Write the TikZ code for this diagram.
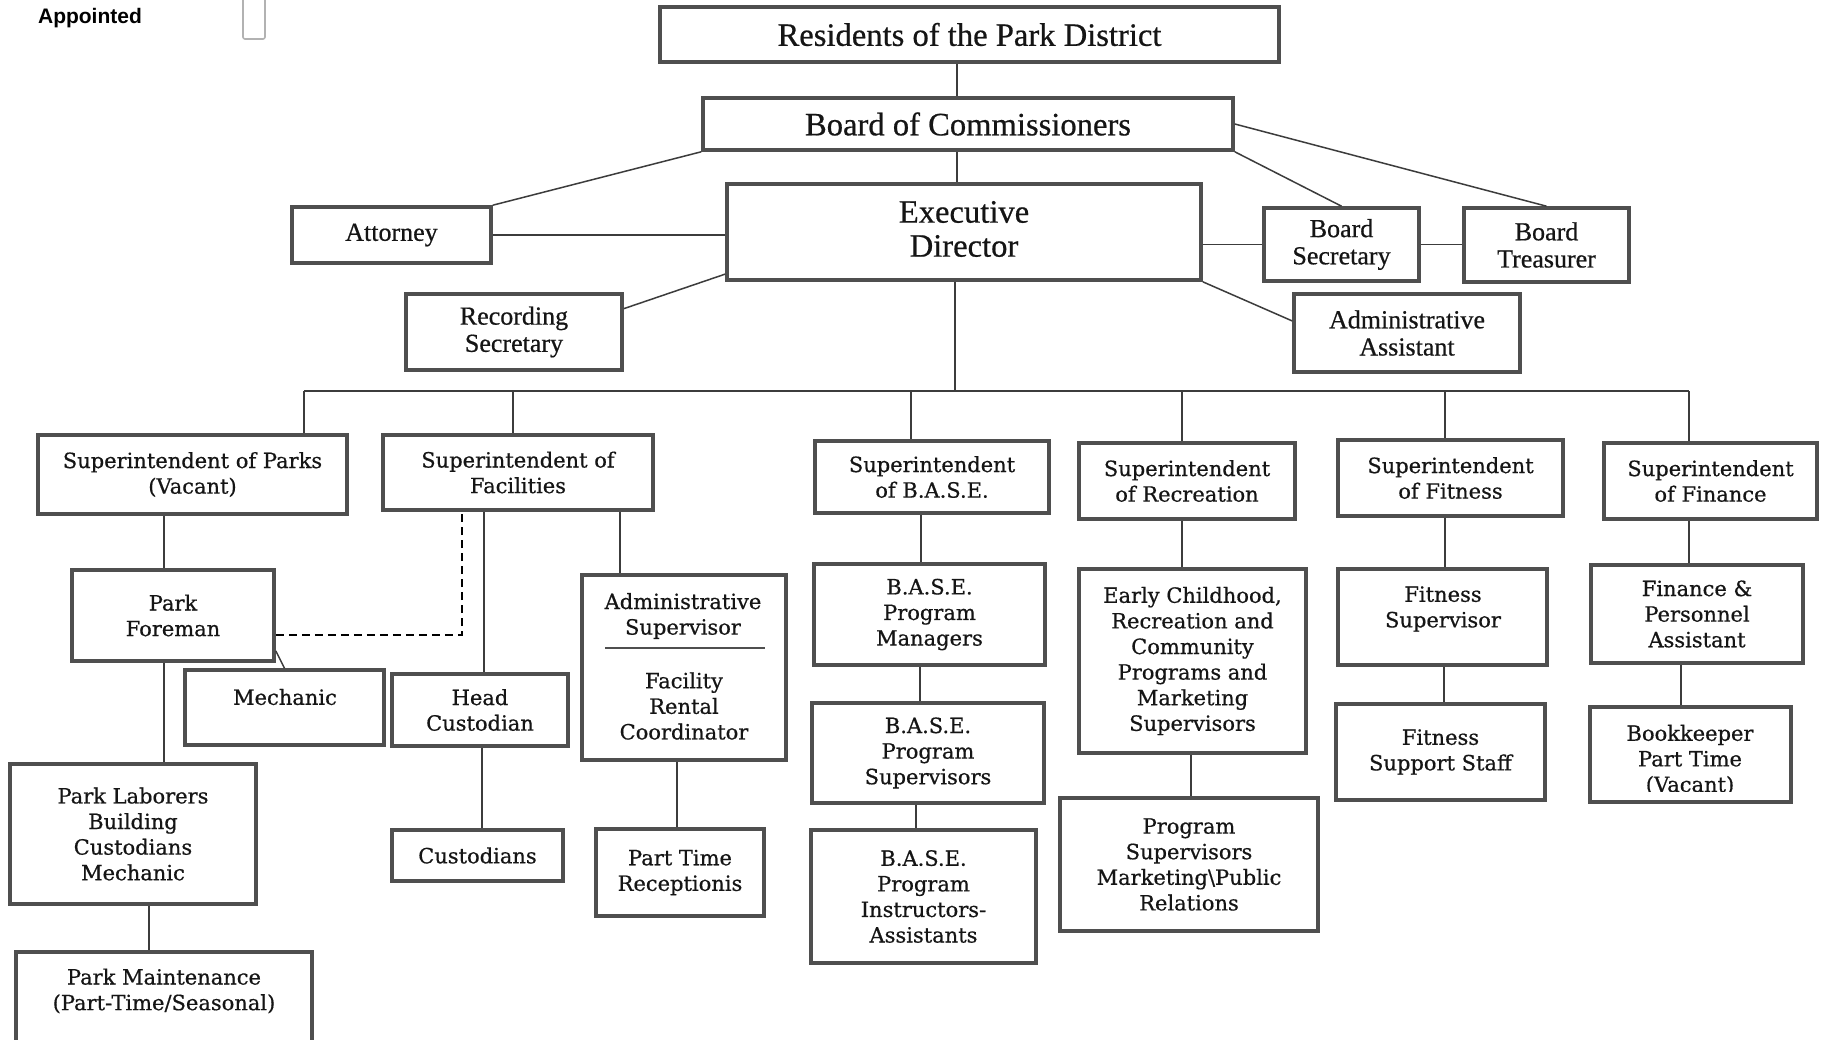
\documentclass[tikz,border=0pt]{standalone}
\usepackage{fontspec}
\setmainfont{DejaVu Serif}
\newfontfamily\lowserif{DejaVu Serif}[FakeBold=0.6]
\newfontfamily\topserif{Liberation Serif}[FakeBold=0.6]
\newfontfamily\labsans{Liberation Sans}
\definecolor{boxgray}{HTML}{4F4F4F}
\definecolor{linegray}{HTML}{3C3C3C}
\definecolor{txt}{HTML}{151515}
\newcommand\orgLow{\fontsize{10.5}{12.8}\selectfont\lowserif}
\newcommand\orgBig{\fontsize{16.3}{17}\selectfont\topserif}
\newcommand\orgMid{\fontsize{13}{13.6}\selectfont\topserif}
% #1 name, #2 x1, #3 y1, #4 x2, #5 y2, #6 style, #7 text
\newcommand\orgbox[7]{\node[#6, minimum width={(#4-#2)*0.5pt}, minimum height={(#5-#3)*0.5pt}] (#1) at ({(#2+#4)/2},{(#3+#5)/2}) {#7};}
\begin{document}
\begin{tikzpicture}[x=0.5pt,y=-0.5pt,
  box/.style={draw=boxgray, line width=1.8pt, inner sep=0pt, align=center, text=txt, font=\orgLow},
  topbox/.style={box, font=\orgBig},
  midbox/.style={box, font=\orgMid},
  conn/.style={draw=linegray, line width=0.75pt},
  dotted link/.style={draw=black, line width=1.3pt, dash pattern=on 4pt off 2.5pt},
  divider/.style={draw=boxgray, line width=1pt},
  txtnode/.style={align=center, text=txt, font=\orgLow, inner sep=0pt}]
\fill[white] (0,0) rectangle (1825,1039);
\useasboundingbox (0,0) rectangle (1825,1039);

% legend
\node[font=\labsans\bfseries\fontsize{10.5}{12}\selectfont, inner sep=0pt] (appt) at (90,18) {Appointed};
\orgbox{appbox}{243}{-12}{265}{39}{draw=gray!60, line width=0.8pt, inner sep=0pt, rounded corners=1pt}{}

% top
\orgbox{res}{660}{7}{1279}{62}{topbox}{Residents of the Park District}
\orgbox{bd}{703}{98}{1233}{150}{topbox}{Board of Commissioners}
\orgbox{ed}{727}{184}{1201}{280}{topbox}{}
\node[txtnode, font=\orgBig] (edt) at (964,229) {Executive\\Director};
\orgbox{att}{292}{207}{491}{263}{midbox}{Attorney}
\orgbox{bsec}{1264}{208}{1419}{281}{midbox}{Board\\Secretary}
\orgbox{btr}{1464}{208}{1629}{282}{midbox}{Board\\Treasurer}
\orgbox{rs}{406}{294}{622}{370}{midbox}{Recording\\Secretary}
\orgbox{aa}{1294}{294}{1520}{372}{midbox}{Administrative\\Assistant}

% level 2
\orgbox{sp}{38}{435}{347}{514}{box}{Superintendent of Parks\\(Vacant)}
\orgbox{sf}{383}{435}{653}{510}{box}{Superintendent of\\Facilities}
\orgbox{sb}{815}{441}{1049}{513}{box}{Superintendent\\of B.A.S.E.}
\orgbox{sr}{1079}{443}{1295}{519}{box}{Superintendent\\of Recreation}
\orgbox{sfit}{1338}{440}{1563}{516}{box}{Superintendent\\of Fitness}
\orgbox{sfin}{1604}{443}{1817}{519}{box}{Superintendent\\of Finance}

% level 3 and below
\orgbox{pf}{72}{570}{274}{661}{box}{Park\\Foreman}
\orgbox{mech}{185}{670}{384}{745}{box}{}
\node[txtnode] (mecht) at (285,697) {Mechanic};
\orgbox{hc}{392}{674}{568}{746}{box}{Head\\Custodian}
\orgbox{cu}{392}{830}{563}{881}{box}{Custodians}
\orgbox{as}{582}{575}{786}{760}{box}{}
\node[txtnode] (ast1) at (683,616) {Administrative\\Supervisor};
\node[txtnode] (ast2) at (684,706) {Facility\\Rental\\Coordinator};
\draw[divider] (605,648) -- (765,648);
\orgbox{pt}{596}{829}{764}{916}{box}{Part Time\\Receptionis}
\orgbox{pl}{10}{764}{256}{904}{box}{Park Laborers\\Building\\Custodians\\Mechanic}
\orgbox{pm}{16}{952}{312}{1060}{box}{}
\node[txtnode] (pmt) at (164,991) {Park Maintenance\\(Part-Time/Seasonal)};

\orgbox{bm}{814}{564}{1045}{665}{box}{B.A.S.E.\\Program\\Managers}
\orgbox{bs}{812}{703}{1044}{803}{box}{B.A.S.E.\\Program\\Supervisors}
\orgbox{bi}{811}{830}{1036}{963}{box}{B.A.S.E.\\Program\\Instructors-\\Assistants}
\orgbox{ec}{1079}{569}{1306}{753}{box}{Early Childhood,\\Recreation and\\Community\\Programs and\\Marketing\\Supervisors}
\orgbox{ps}{1060}{798}{1318}{931}{box}{Program\\Supervisors\\Marketing\textbackslash Public\\Relations}
\orgbox{fs}{1338}{569}{1547}{665}{box}{}
\node[txtnode] (fst1) at (1443,609) {Fitness\\Supervisor};
\orgbox{fst}{1336}{704}{1545}{800}{box}{Fitness\\Support Staff}
\orgbox{fp}{1591}{565}{1803}{663}{box}{Finance \&\\Personnel\\Assistant}
\orgbox{bk}{1590}{707}{1791}{802}{box}{}
\begin{scope}
  \clip (1590,707) rectangle (1791,791);
  \node[txtnode] (bkt) at (1690,760) {Bookkeeper\\Part Time\\(Vacant)};
\end{scope}

% helper coordinates
\coordinate (x957) at (957,0);
\coordinate (b0) at (955,391);
\coordinate (b1) at (304,391);
\coordinate (b2) at (513,391);
\coordinate (b3) at (911,391);
\coordinate (b4) at (1182,391);
\coordinate (b5) at (1445,391);
\coordinate (b6) at (1689,391);
\coordinate (x164) at (164,0);
\coordinate (x149) at (149,0);
\coordinate (x484) at (484,0);
\coordinate (x482) at (482,0);
\coordinate (x620) at (620,0);
\coordinate (x677) at (677,0);
\coordinate (x921) at (921,0);
\coordinate (x920) at (920,0);
\coordinate (x916) at (916,0);
\coordinate (x1191) at (1191,0);
\coordinate (x1444) at (1444,0);
\coordinate (x1681) at (1681,0);
\coordinate (dk) at (462,635);

% connectors
\draw[conn] (res.south -| x957) -- (bd.north -| x957);
\draw[conn] (bd.south -| x957) -- (ed.north -| x957);
\draw[conn] (bd.south west) -- (att.north east);
\draw[conn] (bd.south east) -- (bsec.north);
\draw[conn] (bd.east) -- (btr.north);
\draw[conn] (att.east) -- (att.east -| ed.west);
\draw[conn] (bsec.west -| ed.east) -- (bsec.west);
\draw[conn] (bsec.east) -- (bsec.east -| btr.west);
\draw[conn] (ed.190) -- (rs.12);
\draw[conn] (ed.south east) -- (aa.174);
\draw[conn] (ed.south -| b0) -- (b0);
\draw[conn] (b1) -- (b6);
\draw[conn] (b1) -- (sp.north -| b1);
\draw[conn] (b2) -- (sf.north -| b2);
\draw[conn] (b3) -- (sb.north -| b3);
\draw[conn] (b4) -- (sr.north -| b4);
\draw[conn] (b5) -- (sfit.north -| b5);
\draw[conn] (b6) -- (sfin.north -| b6);

\draw[conn] (sp.south -| x164) -- (pf.north -| x164);
\draw[conn] (pf.south -| x164) -- (pl.north -| x164);
\draw[conn] (pl.south -| x149) -- (pm.north -| x149);
\draw[conn] (pf.-19) -- (mech.north);
\draw[dotted link] (dk -| pf.east) -- (dk) -- (sf.south -| dk);
\draw[conn] (sf.south -| x484) -- (hc.north -| x484);
\draw[conn] (hc.south -| x482) -- (cu.north -| x482);
\draw[conn] (sf.south -| x620) -- (as.north -| x620);
\draw[conn] (as.south -| x677) -- (pt.north -| x677);

\draw[conn] (sb.south -| x921) -- (bm.north -| x921);
\draw[conn] (bm.south -| x920) -- (bs.north -| x920);
\draw[conn] (bs.south -| x916) -- (bi.north -| x916);
\draw[conn] (sr.south -| b4) -- (ec.north -| b4);
\draw[conn] (ec.south -| x1191) -- (ps.north -| x1191);
\draw[conn] (sfit.south -| b5) -- (fs.north -| b5);
\draw[conn] (fs.south -| x1444) -- (fst.north -| x1444);
\draw[conn] (sfin.south -| b6) -- (fp.north -| b6);
\draw[conn] (fp.south -| x1681) -- (bk.north -| x1681);
\end{tikzpicture}
\end{document}
